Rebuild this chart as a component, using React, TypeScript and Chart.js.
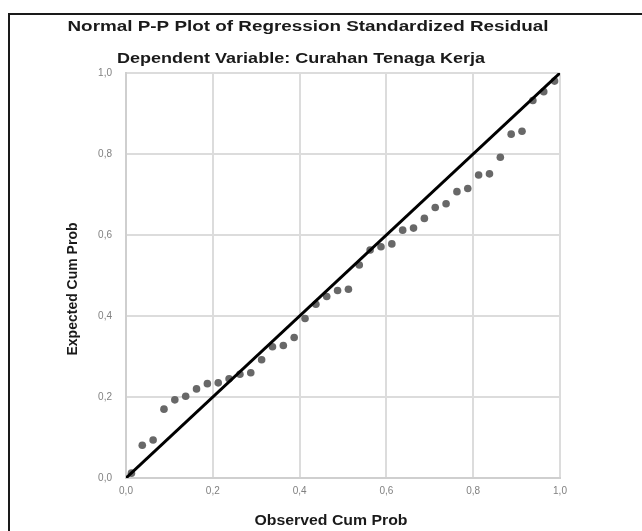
import React, { useEffect, useRef } from "react";
import { Chart, registerables } from "chart.js";

Chart.register(...registerables);

const obsCum = [
  0.0125, 0.0375, 0.0625, 0.0875, 0.1125, 0.1375, 0.1625, 0.1875, 0.2125, 0.2375,
  0.2625, 0.2875, 0.3125, 0.3375, 0.3625, 0.3875, 0.4125, 0.4375, 0.4625, 0.4875,
  0.5125, 0.5375, 0.5625, 0.5875, 0.6125, 0.6375, 0.6625, 0.6875, 0.7125, 0.7375,
  0.7625, 0.7875, 0.8125, 0.8375, 0.8625, 0.8875, 0.9125, 0.9375, 0.9625, 0.9875,
];
const expCum = [
  0.012, 0.081, 0.094, 0.170, 0.193, 0.202, 0.220, 0.233, 0.235, 0.245,
  0.256, 0.260, 0.292, 0.324, 0.327, 0.347, 0.394, 0.429, 0.448, 0.463,
  0.466, 0.526, 0.563, 0.571, 0.578, 0.612, 0.617, 0.641, 0.668, 0.677,
  0.707, 0.715, 0.748, 0.751, 0.792, 0.849, 0.856, 0.932, 0.954, 0.980,
];
const refX = [0, 1];
const refY = [0, 1];
const tickValues = [0, 0.2, 0.4, 0.6, 0.8, 1.0];
const tickLabels = ["0,0", "0,2", "0,4", "0,6", "0,8", "1,0"];

const titleText = "Normal P-P Plot of Regression Standardized Residual";
const subtitleText = "Dependent Variable: Curahan Tenaga Kerja";
const xTitle = "Observed Cum Prob";
const yTitle = "Expected Cum Prob";

const FONT = "'Liberation Sans', Arial, sans-serif";

function stretchText(
  ctx: CanvasRenderingContext2D,
  text: string,
  cx: number,
  cy: number,
  targetW: number,
  rotate: boolean
) {
  ctx.save();
  ctx.font = `bold 14px ${FONT}`;
  ctx.fillStyle = "#1a1a1a";
  ctx.textAlign = "center";
  ctx.textBaseline = "middle";
  const w = ctx.measureText(text).width;
  ctx.translate(cx, cy);
  if (rotate) ctx.rotate(-Math.PI / 2);
  ctx.scale(targetW / w, 1);
  ctx.fillText(text, 0, 0);
  ctx.restore();
}

const textPlugin = {
  id: "ppTexts",
  afterDraw(chart: any) {
    const ctx = chart.ctx as CanvasRenderingContext2D;
    stretchText(ctx, titleText, 308, 27, 481, false);
    stretchText(ctx, subtitleText, 301, 59, 368, false);
    stretchText(ctx, xTitle, 331, 521, 153, false);
    stretchText(ctx, yTitle, 73, 289, 133, true);
  },
};

export default function App() {
  const ref = useRef<HTMLCanvasElement | null>(null);

  useEffect(() => {
    if (!ref.current) return;
    const gridColor = "#dcdcdc";
    const setTicks = (scale: any) => {
      scale.ticks = tickValues.map((v) => ({ value: v }));
    };
    const chart = new Chart(ref.current, {
      type: "scatter",
      data: {
        datasets: [
          {
            type: "line",
            data: refX.map((x, i) => ({ x, y: refY[i] })),
            borderColor: "#000000",
            borderWidth: 3,
            pointRadius: 0,
            showLine: true,
            fill: false,
          } as any,
          {
            data: obsCum.map((x, i) => ({ x, y: expCum[i] })),
            backgroundColor: "#686868",
            borderWidth: 0,
            pointRadius: 3.8,
          },
        ],
      },
      plugins: [textPlugin],
      options: {
        animation: false,
        responsive: false,
        layout: { padding: { top: 73, right: 82, left: 86, bottom: 28 } },
        plugins: {
          legend: { display: false },
          tooltip: { enabled: false },
          title: { display: false },
        },
        scales: {
          x: {
            type: "linear",
            min: 0,
            max: 1,
            afterBuildTicks: setTicks,
            afterFit: (s: any) => {
              s.height = 25;
            },
            grid: { color: gridColor, lineWidth: 2, drawTicks: false },
            border: { color: "#cfcfcf", width: 2 },
            ticks: {
              padding: 7,
              color: "#808080",
              font: { size: 10, family: FONT },
              maxRotation: 0,
              callback: (_v: any, i: number) => tickLabels[i],
            },
          },
          y: {
            type: "linear",
            min: 0,
            max: 1,
            afterBuildTicks: setTicks,
            afterFit: (s: any) => {
              s.width = 40;
            },
            grid: { color: gridColor, lineWidth: 2, drawTicks: false },
            border: { color: "#cfcfcf", width: 2 },
            ticks: {
              padding: 14,
              color: "#808080",
              font: { size: 10, family: FONT },
              callback: (_v: any, i: number) => tickLabels[i],
            },
          },
        },
      },
    });
    return () => chart.destroy();
  }, []);

  return (
    <div
      style={{
        position: "fixed",
        left: 0,
        top: 0,
        width: 642,
        height: 531,
        background: "#ffffff",
        overflow: "hidden",
      }}
    >
      <div
        style={{
          position: "absolute",
          left: 8,
          top: 13,
          width: 700,
          height: 600,
          border: "2px solid #1a1a1a",
        }}
      />
      <canvas
        ref={ref}
        width={642}
        height={531}
        style={{ position: "absolute", left: 0, top: 0, width: 642, height: 531 }}
      />
    </div>
  );
}
